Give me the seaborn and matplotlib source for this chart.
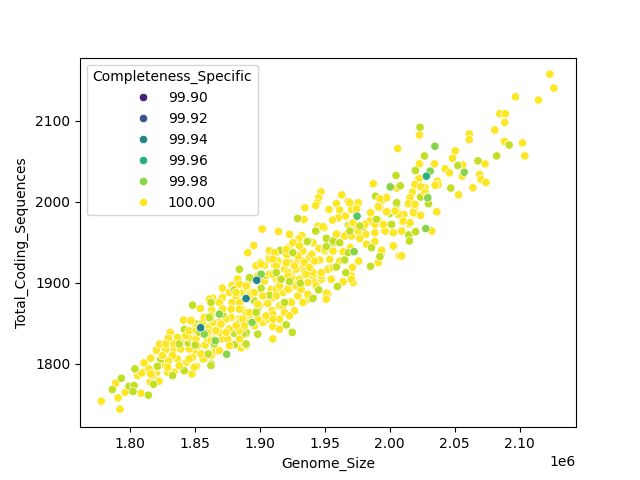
import numpy as np
import pandas as pd
import seaborn as sns
import matplotlib
matplotlib.use("Agg")
import matplotlib.pyplot as plt

# Genome size in kbp and coding sequence count, grouped by specific completeness
size_min = [1884.3]
cds_min = [1875.9]

size_94_under = [1975.0]
cds_94_under = [1964.0]

size_94 = [1854.4, 1897.6, 1889.4]
cds_94 = [1844.7, 1903.3, 1880.7]

size_mid = [2028.3, 1974.9]
cds_mid = [2031.7, 1982.4]
comp_mid = [99.96, 99.97]

size_98 = [2034.8, 2000.2, 2029.4, 2027.8, 2057.4, 2031.2, 1972.6, 2000.5, 1894, 1874.5, 1857.2, 1868.8, 1865.7,
           1901, 2029.3]
cds_98 = [2068.6, 2018.6, 2005.9, 1967, 2036.6, 2037.9, 1938.5, 2018.5, 1851.2, 1811.9, 1836.9, 1861.5, 1828.7,
          1910.8, 2005]

size_99 = [2023.4, 2026.8, 2019.8, 2004.9, 2008.2, 2047.1, 2052.5, 2068, 2082.4, 2092, 2023.9, 2029.9, 2004.9,
           2001.3, 2014.4, 2015.4, 2019.8, 2031.7, 2000.2, 1929.1, 1943.5, 1937.3, 1951.2, 1956.4, 1961.5, 1951.2,
           1965.4, 1959, 1966.2, 1959.5, 1945.3, 1941.4, 1922.4, 1930.9, 1907.4, 1901, 1884.2, 1880.4, 1897.9,
           1882.9, 1920.3, 1925, 1898.4, 1880.4, 1888.1, 1904.8, 1989.1, 2005.4, 2001.2, 1968, 1972.4, 1979.6,
           1985.2, 1993.2, 1915.7, 1892, 1895.8, 1925.5, 1793.3, 1786.4, 1799.3, 1803.1, 1802.3, 1814.2, 1803.9,
           1821.2, 1818.1, 1832.8, 1841.8, 1862.6, 1841.8, 1848.2, 1862.4, 1880.4, 1871.4, 1861.1, 1883, 1889.5,
           1880.4, 1880.4, 1865, 1844.9, 1850.8, 1859.8, 1886.9, 1823.7, 1837.9, 1850.8]
cds_99 = [2092, 2056.7, 2038.7, 2032.5, 2019.8, 2017, 2044.8, 2050.6, 2056.7, 2070.2, 2005.9, 1997.7, 1996.9,
          1972.7, 1959.5, 1952.6, 1963.6, 1964.9, 1985.8, 1979.5, 1964, 1951.6, 1955.3, 1949.6, 1949.6, 1943.4,
          1927.9, 1919.7, 1912.7, 1895.5, 1892.2, 1881.9, 1901.6, 1899.2, 1884.8, 1893.4, 1916.8, 1892.2, 1867.6,
          1848.3, 1848.3, 1838.9, 1836.8, 1838.1, 1838.9, 1909.4, 2007, 1996.8, 1972.2, 1971.3, 1967.2, 1968.9,
          1920.5, 1935.3, 1940.2, 1904.5, 1877.9, 1936.5, 1782.4, 1768.5, 1772.6, 1773.4, 1766, 1761.5, 1793.5,
          1796.4, 1775, 1785.7, 1791.8, 1800, 1842.7, 1872.6, 1875.9, 1891.5, 1861.5, 1855.4, 1849.2, 1839,
          1837.8, 1823.8, 1821.4, 1825.9, 1822.6, 1812.4, 1836.9, 1806.2, 1824.6, 1849.2]

size_99b = [1837.9, 1850.2, 1860.3, 1821.1, 1803.8, 1862.3, 1861.8, 1853.3, 1884.3, 1861, 1889.4, 1864.9, 1897.1,
            1892, 1943, 1951.2, 1956.4, 1961.5, 1936.5, 1951.2, 1925.4, 1958.9, 1965.4, 1968, 1922.9, 1916.4,
            1931.1, 1959.7, 1945.3, 1940.9, 1919, 1912.6, 2029.9, 2001.5, 2014.7, 2015.2, 2020, 1977, 1989.9,
            1969.3, 2005.4, 1986, 1992.5]
cds_99b = [1824.6, 1823.4, 1812.3, 1797.2, 1793.9, 1798, 1856.2, 1839, 1916.9, 1857.4, 1824.7, 1824.7, 1863.6,
           1906.6, 1964, 1955, 1951.8, 1949.7, 1950.9, 1944.8, 1937.4, 1919.7, 1928.4, 1937.4, 1901.8, 1904.6,
           1899.7, 1895.6, 1891.5, 1880.8, 1875.9, 1912.8, 1997.7, 1972.2, 1959.1, 1951.8, 1963.2, 1970.2, 1978.4,
           1964, 1998.9, 1943.5, 1932.5]

size_100 = [2123.4, 2126.5, 2096.9, 2114.6, 2084.8, 2089.1, 2088.6, 2080.9, 2061.3, 2061.3, 2088.4, 2102.3, 2006.2,
            2050.5, 2104.1, 2048.4, 2022.9, 2073.4, 2056.2, 2034.5, 2022.9, 2042.7, 2046.1, 2055.9, 2069.3, 2070.3,
            2074.2, 2036.8, 2037.3, 2023.9, 2019.6, 2027.3, 2064.1, 2053.1, 2022.6, 1997.7, 2015.7, 2014.4, 2019,
            2019.6, 2023.9, 2036, 1997.4, 2005.4, 2006.7, 2011, 2009.8, 2014.9, 1996.1, 2003, 2003.3, 1992.5,
            1987.3, 1947.1, 1963.1, 1945.3, 1944, 1943, 1959, 1934.7, 1953.3, 1968, 1976, 1961.5, 1970.6, 1985.3,
            1997.6, 1994.5, 1997.4, 1965.9, 1960.3, 1955.9, 1934, 1901.8, 1914.4, 1922.9, 1895.3, 1890.7, 1932.4,
            1930.1, 1926.8, 1922.1, 1940.9, 1959.5, 1965.9, 1972.4, 1984.7, 1991.2, 1981.6, 1988.6, 1977, 1982.2,
            2002.8, 2002.8, 1994, 1991.2, 2007.4, 1949.7, 1944.8, 1907.4, 1912.6, 1906.9, 1920.8, 1913.9, 1933.2,
            1945.6, 1950, 1963.6, 1969.8, 1976.2, 1946.1, 1938.3, 1929.3, 1897.6, 1900.2, 1903.6, 1882.9, 1890.7,
            1898.4, 1908.7, 1912.6, 1919, 1924.2, 1934.5, 1952.5, 1940.9, 1971.3, 1970.6, 1964.4, 1971.8, 1955.1,
            1952.5, 1951, 1923.7, 1917.7, 1910, 1929.3, 1899.7, 1906.1, 1886.8, 1909.5, 1926.8, 1878.6, 1878.6,
            1892, 1895.8, 1910, 1915.2, 1902.3, 1876.5, 1933.2, 1925.5, 1947.4, 1915.2, 1903.6, 1886.8, 1884.2,
            1777.9, 1792.3, 1790.8, 1789, 1796.4, 1808.5, 1806, 1812.1, 1815.5, 1820.6, 1823, 1828.9, 1831, 1841.3,
            1847.2, 1854.1, 1863.7, 1871.2, 1871.2, 1883, 1878.6, 1878.6, 1886.9, 1890, 1862.9, 1877.9, 1870.1,
            1875.3, 1885.6, 1857.2, 1847.7, 1834, 1822.4, 1815.5, 1820.6, 1829.4, 1836.6, 1843.6, 1851.3, 1848.2,
            1838.7, 1832.8, 1826.3, 1839.2, 1851.6, 1857.8, 1839.2, 1809, 1861.1, 1868.8, 1881.7, 1862.4, 1874,
            1884.3, 1868.8, 1889.5, 1850.8, 1863.7, 1825, 1814.7, 1817.3, 1828.9, 1845.6, 1849.5, 1835.3, 1830.2]
cds_100 = [2157.6, 2140.3, 2129.7, 2125.6, 2108.8, 2108.8, 2098, 2088.7, 2083.8, 2076.8, 2074.7, 2072.7, 2065.7,
           2062.9, 2056.7, 2053.8, 2082.5, 2046.9, 2045.6, 2046.9, 2046.9, 2040.7, 2035.8, 2031.7, 2033.8, 2027.6,
           2023.9, 2025.6, 2021, 2019, 2021, 2017.4, 2017.4, 2008.7, 2028.8, 2005.9, 2005, 1998, 1990.7,
           1985.4, 1983.7, 1987.8, 1987.4, 2017, 1986.6, 1984.5, 1975.5, 1972.7, 1964.9, 1962, 1945.6, 1992.7,
           2022.6, 2012.3, 2008.6, 2005, 1998.8, 1995.5, 1998, 1992.7, 1990.6, 2000.4, 1998.4, 1989.8, 1990.6, 1986.5,
           2006.2, 2002.1, 1987.7, 1982.4, 1980.3, 1977.5, 1978.3, 1966.4, 1963.5, 1959.9, 1946.3, 1937.3, 1958.6,
           1954.5, 1949.6, 1943.4, 1949.6, 1960.7, 1959.4, 1966, 1976.3, 1977.5, 1959.9, 1961.9, 1954.5, 1947.5,
           1961.9, 1946.3, 1940.6, 1925, 1933.2, 1968, 1970.1, 1939.8, 1937.3, 1930.7, 1934.8, 1927, 1939.3,
           1942.6, 1939.3, 1938.5, 1943.4, 1927, 1928.3, 1931.2, 1927, 1920.9, 1925, 1921.7, 1905.7, 1894.3,
           1908.6, 1892.2, 1914.8, 1916.8, 1912.7, 1911.5, 1916.8, 1908.6, 1919.7, 1908.6, 1902, 1900.4, 1904.5,
           1886.9, 1879.9, 1877, 1888.1, 1882, 1884, 1872.5, 1874.6, 1866.8, 1865.6, 1865.6, 1875.8, 1857.4,
           1855.3, 1847.1, 1846.3, 1843, 1851.2, 1888.1, 1918.9, 1904.5, 1904.5, 1904.5, 1902.5, 1888.1, 1855.3,
           1754.1, 1744.3, 1758.2, 1776.3, 1765.2, 1764, 1785.7, 1791, 1806.2, 1816.5, 1824.6, 1831.6, 1839, 1854.2,
           1854.6, 1868.5, 1881.2, 1893.5, 1882, 1904.6, 1897.2, 1875.9, 1866.5, 1892.3, 1866.5, 1857.4, 1830.8,
           1830.8, 1819.7, 1806.2, 1787.7, 1789.8, 1778.7, 1777.5, 1789.8, 1804.2, 1806.2, 1802.1, 1797.2, 1808.3,
           1818.5, 1818.5, 1816.5, 1830.8, 1834.9, 1824.6, 1796, 1789, 1880, 1875.9, 1884.1, 1859.5, 1855.4,
           1851.3, 1839, 1836.9, 1816.5, 1812.4, 1800, 1793.9, 1785.7, 1789.8, 1818.5, 1796, 1820.5, 1826.7]

size_100b = [1810.8, 1816, 1820.3, 1822.9, 1829.6, 1827.5, 1834, 1839.1, 1832.7, 1829.6, 1837.9, 1848.2, 1856.4,
             1862.3, 1866.2, 1858, 1852, 1845.1, 1863.6, 1861, 1866.2, 1886.8, 1898.4, 1910, 1915.2, 1906.2, 1876.5,
             1889.4, 1884.3, 1897.1, 1901, 1907.4, 1911.3, 1846.9, 1850.8, 1859.8, 1849.5, 1868.8, 1881.7, 1912.6,
             1910, 1888.1, 1925.4, 1920.3, 1930.6, 1948.6, 1958.9, 1965.4, 1975.7, 1969.2, 1949.9, 1956.4, 1940.1,
             1964.1, 1911.3, 1913.8, 1912.6, 1922.9, 1933.2, 1929.3, 1928, 1921.6, 1934.5, 1940.9, 1952.5, 1947.3,
             1930.6, 1922.9, 1915.1, 1912.6, 1912.6, 1924.2, 1942.2, 1955, 1964.1, 1970.5, 1971.3, 1951.2, 1951.2,
             1935.7, 1910, 1937, 1907.4, 2035, 2019.5, 2023.9, 2017.5, 2027.3, 2015.7, 2014.4, 2019.5, 2018.3,
             2023.9, 2036.3, 1975.7, 1997.6, 1992.5, 1985.3, 1991.2, 1997.6, 2010.5, 2015.7, 1984.8, 1980.9,
             1971.9, 2002.8, 2009.2, 1996.4, 1988.6, 1970.6, 1977, 1982.2, 1988.6, 2002.8, 1993.8, 2009.2, 2032.4,
             2006.7, 2004.1, 1974.5, 1995.1, 1969.3]
cds_100b = [1801.3, 1807, 1816.9, 1824.6, 1831.6, 1817.7, 1819.3, 1818.5, 1810.3, 1803.7, 1798, 1808.2, 1806.2,
            1810.3, 1816.4, 1823.4, 1822.6, 1832.8, 1830.8, 1845.1, 1847.2, 1855.4, 1873.8, 1861.5, 1871.8, 1855.4,
            1843.1, 1863.6, 1898.5, 1921, 1923, 1929.2, 1921, 1853.4, 1845.2, 1830.8, 1824.6, 1851.3, 1888.2, 1904.6,
            1830.8, 1824.6, 1949.7, 1941.5, 1945.6, 1969.4, 1960, 1957.9, 1964, 1970.2, 1941.5, 1939.4, 1935.4,
            1938.6, 1937.4, 1927.1, 1919, 1925.1, 1927.1, 1933.3, 1916.9, 1912.8, 1914.8, 1912.8, 1916.9, 1908.7,
            1900.5, 1892.3, 1900.5, 1892.3, 1884.1, 1875.9, 1900.5, 1904.6, 1901.3, 1904.6, 1919, 1887.4, 1880,
            1910.7, 1929.2, 1880, 1910.7, 2020.6, 2021.5, 2018.6, 2012, 2012, 2005, 1997.7, 1996.9, 1986.6,
            1983.3, 1987.8, 1998.9, 2005, 2003.8, 1986.6, 1994, 1987.8, 1976.4, 1974.3, 1976.4, 1972.2,
            1974.3, 1962, 1964, 1964, 1972.2, 1957.9, 1955, 1947.7, 1951, 1945.6, 1940.3, 1933.3, 1964,
            1984.6, 1988.6, 1991.5, 1972.2, 1998.9]

size_100c = [1816, 1825, 1829, 1843, 1836.6, 1827.6, 1834, 1845.6, 1854.7, 1868.8, 1876.6, 1884.3, 1889.5, 1862.4,
             1874, 1884.3, 1892, 1877.9, 1884.3, 1892, 1871.4, 1863.7, 1870.1, 1856, 1857.2, 1866.2, 1859.8, 1850.8,
             1845.6, 1850.8, 1917.7, 1915.2, 1921.6, 1928, 1937, 1943.5, 1947.4, 1956.4, 1961.5, 1953.8, 1942.2,
             1934.5, 1926.8, 1920.3, 1910, 1892, 1902.3, 1895.8, 1889.4, 1919, 1904.8, 1898.4, 1892, 1884.2, 1915.2,
             1888.1, 1881.7, 1910, 1922.9, 1931.9, 1937, 1933.2, 1930.6, 1938.3, 1912.6, 1921.6]
cds_100c = [1787.7, 1810.3, 1796, 1835, 1832.8, 1824.6, 1824.6, 1806.2, 1812.4, 1816.4, 1822.6, 1830.8, 1822.6, 1828.7,
            1839, 1841, 1851.3, 1867.7, 1875.9, 1886.2, 1867.7, 1851.3, 1849.2, 1851.3, 1857.4, 1841, 1839, 1830.8,
            1841, 1841, 1871.7, 1896.3, 1892.2, 1896.3, 1900.4, 1896.3, 1912.7, 1918.9, 1927, 1929.1, 1927,
            1925, 1920.9, 1925, 1910.6, 1884, 1884, 1888.1, 1896.3, 1863.5, 1859.4, 1855.3, 1863.5, 1867.6, 1855.3,
            1847.1, 1847.1, 1855.3, 1859.4, 1892.2, 1886, 1875.8, 1904.5, 1918.9, 1920.9, 1908.6]

# Rows are stacked in draw order, rarest completeness values on top
layers = [
    (size_min, cds_min, [99.89]),
    (size_94_under, cds_94_under, [99.94]),
    (size_100, cds_100, [100.0] * len(size_100)),
    (size_99, cds_99, [99.99] * len(size_99)),
    (size_100b, cds_100b, [100.0] * len(size_100b)),
    (size_100c, cds_100c, [100.0] * len(size_100c)),
    (size_99b, cds_99b, [99.99] * len(size_99b)),
    (size_98, cds_98, [99.98] * len(size_98)),
    (size_mid, cds_mid, comp_mid),
    (size_94, cds_94, [99.94] * len(size_94)),
]

df = pd.DataFrame({
    "Genome_Size": np.concatenate([l[0] for l in layers]) * 1000,
    "Total_Coding_Sequences": np.concatenate([l[1] for l in layers]),
    "Completeness_Specific": np.concatenate([l[2] for l in layers]),
})

fig, ax = plt.subplots(figsize=(6.4, 4.8), dpi=100)
sns.scatterplot(data=df, x="Genome_Size", y="Total_Coding_Sequences",
                hue="Completeness_Specific", palette="viridis", ax=ax)
ax.set_xlim(1.7615e6, 2.1435e6)
ax.set_ylim(1722, 2178)
fig.savefig("out.png", dpi=100)
